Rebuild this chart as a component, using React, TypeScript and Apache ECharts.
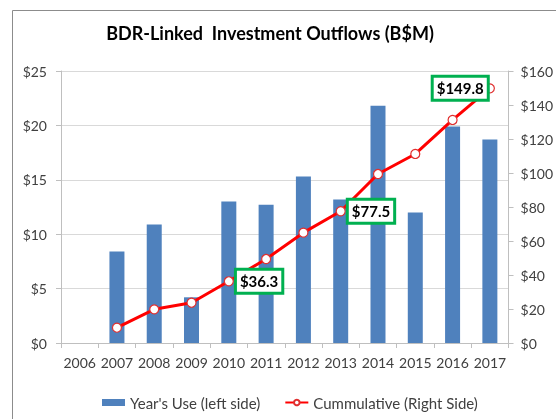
import React, { useEffect, useRef } from 'react';
import * as echarts from 'echarts';

const titleText = 'BDR-Linked  Investment Outflows (B$M)';
const years = ['2006', '2007', '2008', '2009', '2010', '2011', '2012', '2013', '2014', '2015', '2016', '2017'];
const yearsUse = [null, 8.4, 10.9, 4.2, 13.0, 12.7, 15.3, 13.2, 21.8, 12.0, 19.9, 18.7];
const cumulative = [null, 9.0, 19.8, 23.7, 36.3, 49.4, 64.9, 77.5, 99.4, 111.2, 131.2, 149.8];
const labelledYears: Record<string, string> = { '2010': 'right', '2013': 'right', '2017': 'left' };
const leftMax = 25;
const leftInterval = 5;
const rightMax = 160;
const rightInterval = 20;
const barName = "Year's Use (left side)";
const lineName = 'Cummulative (Right Side)';

const FONT = 'Lato, "Open Sans", sans-serif';

export default function App() {
  const ref = useRef<HTMLDivElement>(null);
  useEffect(() => {
    if (!ref.current) return;
    const chart = echarts.init(ref.current, null, { renderer: 'svg' });
    const lineData = cumulative.map((v, i) => {
      const pos = labelledYears[years[i]];
      if (v == null) return '-';
      if (!pos) return v;
      return {
        value: v,
        label: { show: true, position: pos, distance: pos === 'left' ? -2 : 3 },
      };
    });
    chart.setOption({
      animation: false,
      textStyle: { fontFamily: FONT },
      graphic: [
        {
          type: 'rect',
          silent: true,
          z: -10,
          shape: { x: 12.5, y: 10.5, width: 600, height: 500 },
          style: { fill: '#fff', stroke: '#8c8c8c', lineWidth: 1 },
        },
        {
          type: 'text',
          x: 270,
          y: 33,
          style: {
            text: titleText,
            textAlign: 'center',
            textVerticalAlign: 'middle',
            font: 'bold 18px ' + FONT,
            fill: '#000',
          },
        },
      ],
      grid: { left: 61, right: 46, top: 71, bottom: 76 },
      legend: {
        left: 97,
        top: 390,
        itemGap: 24,
        itemWidth: 23,
        itemHeight: 7,
        textStyle: { fontSize: 15, color: '#404040', fontFamily: FONT },
        data: [{ name: barName, icon: 'rect' }, { name: lineName }],
      },
      xAxis: {
        type: 'category',
        data: years,
        axisLine: { lineStyle: { color: '#bfbfbf' } },
        axisTick: { show: true, length: 5, lineStyle: { color: '#bfbfbf' } },
        axisLabel: { interval: 0, fontSize: 14, color: '#404040', margin: 12, fontFamily: FONT },
      },
      yAxis: [
        {
          type: 'value',
          min: 0,
          max: leftMax,
          interval: leftInterval,
          axisLine: { show: true, lineStyle: { color: '#bfbfbf' } },
          axisTick: { show: true, length: 5, lineStyle: { color: '#bfbfbf' } },
          axisLabel: { formatter: (v: number) => '$' + v, fontSize: 14, color: '#404040', margin: 14, fontFamily: FONT },
          splitLine: { lineStyle: { color: '#d9d9d9' } },
        },
        {
          type: 'value',
          min: 0,
          max: rightMax,
          interval: rightInterval,
          position: 'right',
          axisLine: { show: true, lineStyle: { color: '#bfbfbf' } },
          axisTick: { show: true, length: 5, lineStyle: { color: '#bfbfbf' } },
          axisLabel: { formatter: (v: number) => '$' + v, fontSize: 14, color: '#404040', margin: 12, fontFamily: FONT },
          splitLine: { show: false },
        },
      ],
      series: [
        {
          name: barName,
          type: 'bar',
          yAxisIndex: 0,
          barWidth: 15,
          data: yearsUse.map((v) => (v == null ? '-' : v)),
          itemStyle: { color: '#4f81bd' },
        },
        {
          name: lineName,
          type: 'line',
          yAxisIndex: 1,
          data: lineData,
          symbol: 'circle',
          symbolSize: 9,
          z: 5,
          lineStyle: { color: '#ff0000', width: 3 },
          itemStyle: { color: '#ffffff', borderColor: '#e03030', borderWidth: 1.2 },
          label: {
            show: false,
            formatter: (p: any) => '$' + p.value,
            fontSize: 15,
            fontWeight: 'bold',
            color: '#000',
            fontFamily: FONT,
            backgroundColor: '#fff',
            borderColor: '#00b050',
            borderWidth: 3,
            padding: [4, 3, 2, 3],
          },
        },
      ],
    });
    return () => chart.dispose();
  }, []);
  return <div ref={ref} style={{ position: 'fixed', left: 0, top: 0, width: 556, height: 419 }} />;
}
